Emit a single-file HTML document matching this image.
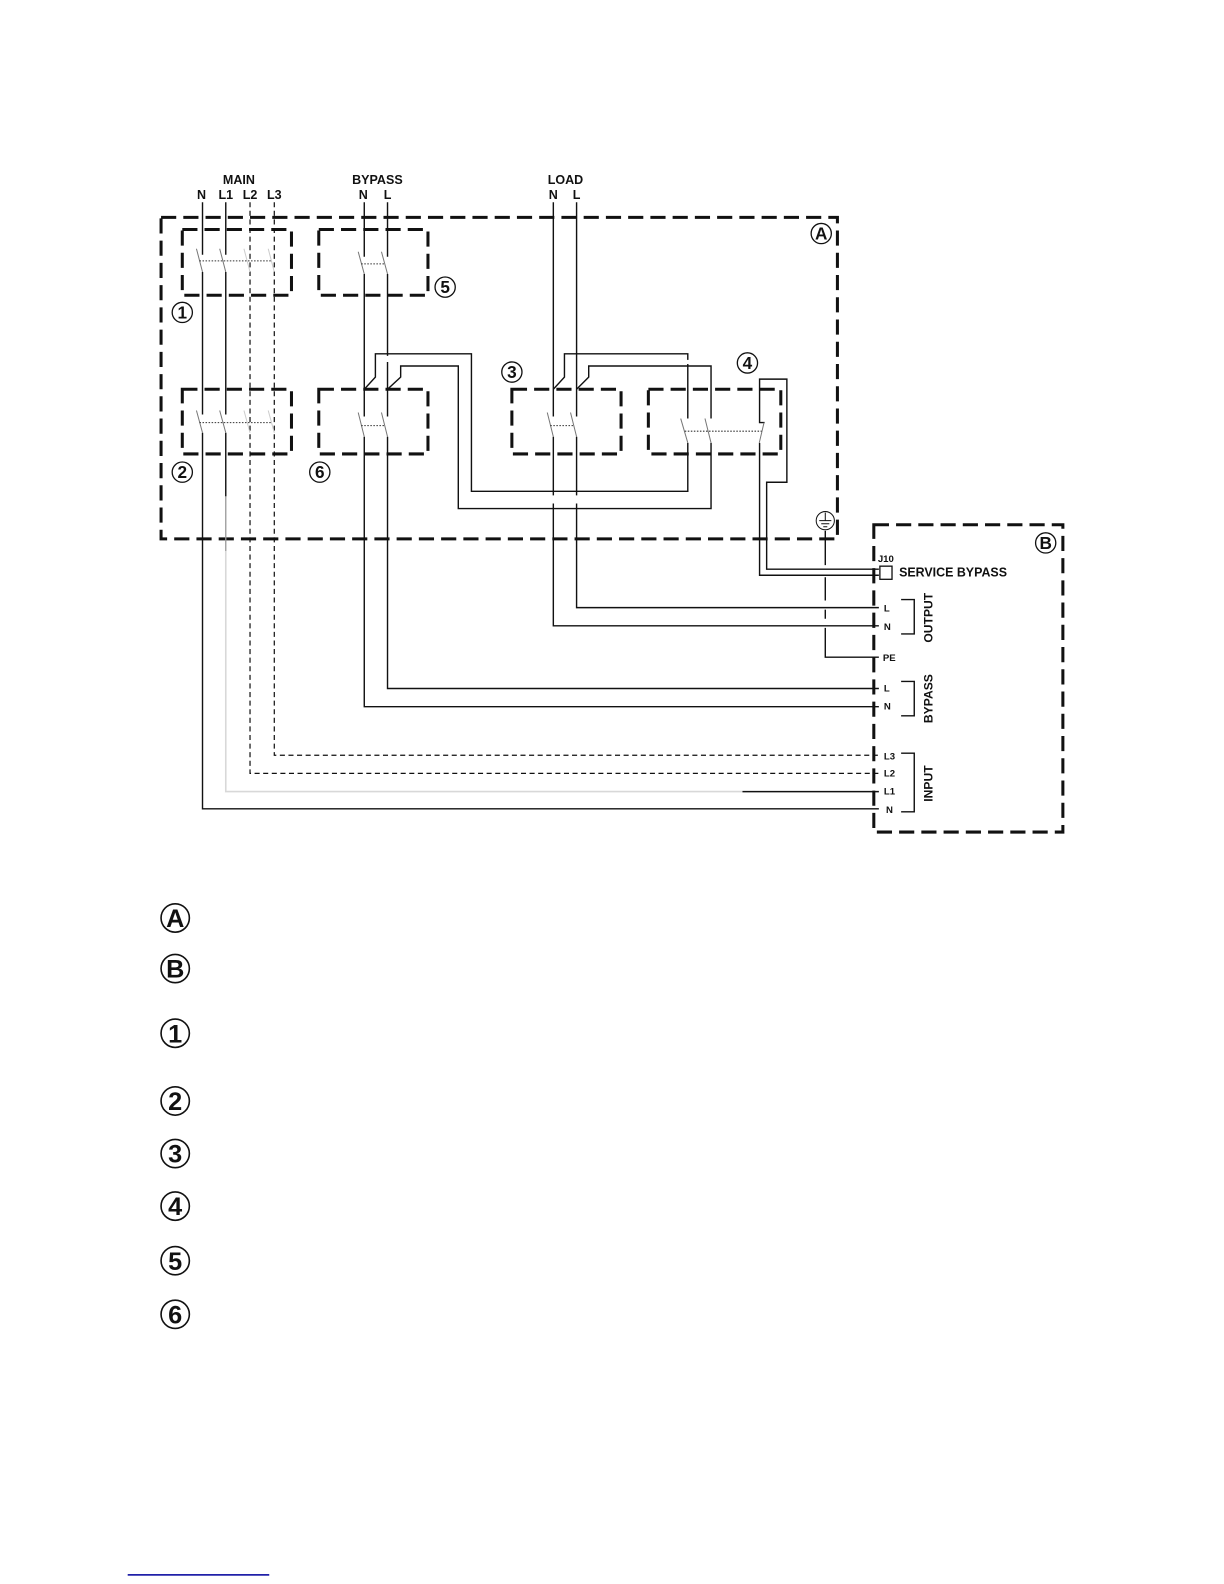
<!DOCTYPE html>
<html><head><meta charset="utf-8"><style>
html,body{margin:0;padding:0;background:#fff}
svg{display:block}
text{font-family:"Liberation Sans",sans-serif;font-weight:bold;fill:#111}
</style></head><body>
<svg width="1224" height="1584" viewBox="0 0 1224 1584" xmlns="http://www.w3.org/2000/svg">
<g transform="translate(-0.7 0) scale(1.011)">
<g fill="none" stroke="#111" stroke-width="3" stroke-dasharray="15 7">
<rect x="160" y="215" width="669" height="318"/>
<rect x="865" y="519" width="187" height="304"/>
<rect x="181" y="227" width="108" height="65"/>
<rect x="316" y="227" width="108" height="65"/>
<rect x="181" y="385" width="108" height="64"/>
<rect x="316" y="385" width="108" height="64"/>
<rect x="507" y="385" width="108" height="64"/>
<rect x="642" y="385" width="131" height="64"/>
</g>
<g fill="none" stroke="#111" stroke-width="1.4">
<path d="M201 200V252M201 269V410M201 428V800H870"/>
<path d="M224 200V252M224 269V410M224 428V491"/>
<path d="M361 200V254M361 271V412M361 432V699H870"/>
<path d="M384 200V254M384 271V352M384 358V412M384 432V681H870"/>
<path d="M548 200V412M548 432V490M548 498V619H870"/>
<path d="M571 200V412M571 432V490M571 498V601H870"/>
<path d="M361 385L372 373V350H467V486H681V438M681 414V360"/>
<path d="M384 385L397 373V362H454V503H704V438M704 414V362H583V373L571 385"/>
<path d="M548 385L559 373V350H681V356"/>
<path d="M757 418H752V375H779V477H759V563H870"/>
<path d="M752 438V569H870"/>
<path d="M817 525V559M817 571V594M817 603V612M817 621V650H870"/>
<path d="M735 783H870"/>
<path d="M892 593H905V627H892M892 674H905V708H892M892 745H905V803H892"/>
</g>
<path d="M224 491V545" stroke="#999" stroke-width="1.3" fill="none"/>
<path d="M224 545V783H735" stroke="#d8d8d8" stroke-width="1.6" fill="none"/>
<g fill="none" stroke="#111" stroke-width="1.2" stroke-dasharray="5 3.5">
<path d="M248 200V765H870"/>
<path d="M272 200V747H870"/>
</g>
<g fill="none" stroke="#777" stroke-width="1">
<path d="M195 246L201 269M218 246L224 269"/>
<path d="M195 406L201 428M218 406L224 428"/>
<path d="M355 249L361 271M378 249L384 271"/>
<path d="M355 408L361 432M378 408L384 432"/>
<path d="M542 408L548 432M565 408L571 432"/>
<path d="M674 414L681 438M698 414L704 438M756.4 418L751.7 438"/>
</g>
<g fill="none" stroke="#ccc" stroke-width="1">
<path d="M242 246L248 269M266 246L272 269M242 406L248 428M266 406L272 428"/>
</g>
<g fill="none" stroke="#333" stroke-width="1" stroke-dasharray="1.5 1.5">
<path d="M198 258H270M198 418H270M358 261H381M358 421H381M545 421H568M678 426.5H754"/>
</g>
<rect x="871" y="560" width="12" height="13" fill="#fff" stroke="#111" stroke-width="1.3"/>
<circle cx="817" cy="515" r="9" fill="#fff" stroke="#111" stroke-width="1"/>
<path d="M817 507V515M811 515H823M813 518H821M815 521H819" stroke="#111" stroke-width="1" fill="none"/>
<g font-size="12.4" text-anchor="middle">
<text x="237" y="182">MAIN</text>
<text x="374" y="182">BYPASS</text>
<text x="560" y="182">LOAD</text>
<text x="200" y="197">N</text>
<text x="224" y="197">L1</text>
<text x="248" y="197">L2</text>
<text x="272" y="197">L3</text>
<text x="360" y="197">N</text>
<text x="384" y="197">L</text>
<text x="548" y="197">N</text>
<text x="571" y="197">L</text>
</g>
<g font-size="12.3"><text x="890" y="570">SERVICE BYPASS</text></g>
<g font-size="9.5">
<text x="869" y="556">J10</text>
<text x="875" y="605">L</text>
<text x="875" y="623">N</text>
<text x="874" y="654">PE</text>
<text x="875" y="684">L</text>
<text x="875" y="702">N</text>
<text x="875" y="751">L3</text>
<text x="875" y="768">L2</text>
<text x="875" y="786">L1</text>
<text x="877" y="804">N</text>
</g>
<g font-size="12" text-anchor="middle">
<text transform="translate(923 611) rotate(-90)">OUTPUT</text>
<text transform="translate(923 691) rotate(-90)">BYPASS</text>
<text transform="translate(923 775) rotate(-90)">INPUT</text>
</g>
<g fill="#fff" stroke="#111" stroke-width="1.3">
<circle cx="813" cy="231" r="10"/><circle cx="1035" cy="537" r="10"/>
<circle cx="181" cy="309" r="10"/><circle cx="441" cy="284" r="10"/>
<circle cx="181" cy="467" r="10"/><circle cx="317" cy="467" r="10"/>
<circle cx="507" cy="368" r="10"/><circle cx="740" cy="359" r="10"/>
</g>
<g font-size="17" text-anchor="middle">
<text x="813" y="237">A</text><text x="1035" y="543">B</text>
<text x="181" y="315">1</text><text x="441" y="290">5</text>
<text x="181" y="473">2</text><text x="317" y="473">6</text>
<text x="507" y="374">3</text><text x="740" y="365">4</text>
</g>
<g fill="#fff" stroke="#111" stroke-width="1.6">
<circle cx="174" cy="908" r="14"/><circle cx="174" cy="958" r="14"/>
<circle cx="174" cy="1022" r="14"/><circle cx="174" cy="1089" r="14"/>
<circle cx="174" cy="1141" r="14"/><circle cx="174" cy="1193" r="14"/>
<circle cx="174" cy="1247" r="14"/><circle cx="174" cy="1300" r="14"/>
</g>
<g font-size="25" text-anchor="middle">
<text x="174" y="917">A</text><text x="174" y="967">B</text>
<text x="174" y="1031">1</text><text x="174" y="1098">2</text>
<text x="174" y="1150">3</text><text x="174" y="1202">4</text>
<text x="174" y="1256">5</text><text x="174" y="1309">6</text>
</g>
<rect x="127" y="1557" width="140" height="1.5" fill="#00009c"/>
</g>
</svg>
</body></html>
